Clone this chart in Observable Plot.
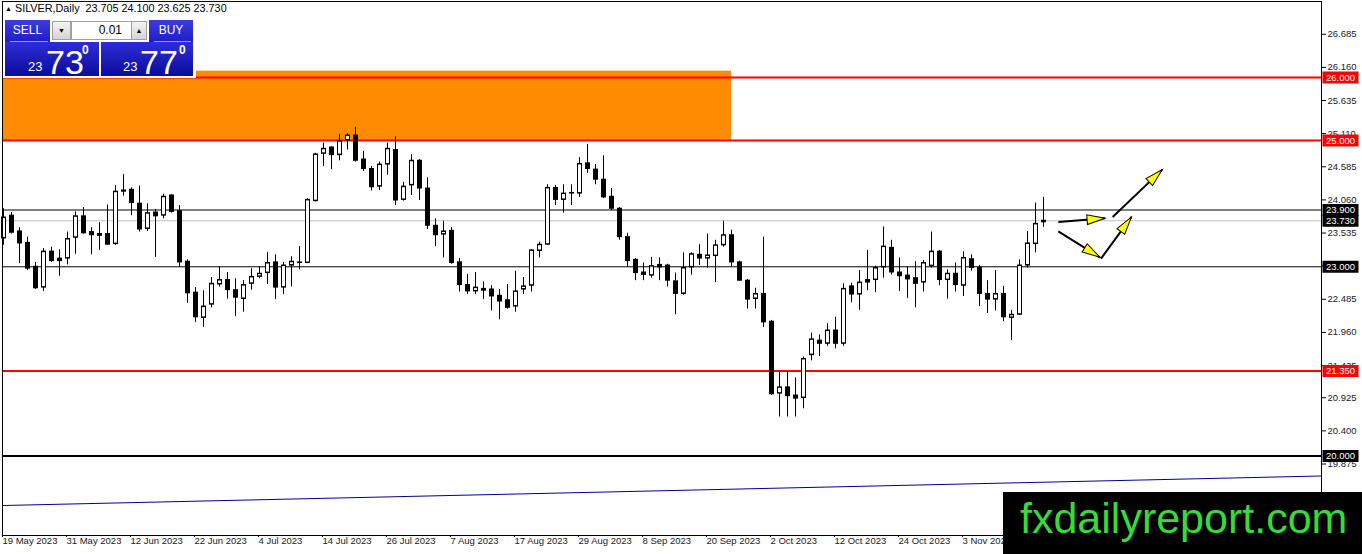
<!DOCTYPE html>
<html><head><meta charset="utf-8">
<script src="https://cdn.jsdelivr.net/npm/d3@7"></script>
<script src="https://cdn.jsdelivr.net/npm/@observablehq/plot@0.6"></script>
<style>
html,body{margin:0;padding:0;background:#fff;}
#wrap{position:relative;width:1362px;height:554px;overflow:hidden;font-family:"Liberation Sans",Arial,sans-serif;}
#chart svg{display:block;}
.ov{position:absolute;box-sizing:border-box;}
.hdr{left:5px;top:1px;font-size:10.8px;color:#000;white-space:pre;line-height:15px;}
.hdr .tri{font-size:7px;vertical-align:1px;}
.btn{color:#fff;font-size:12px;text-align:center;line-height:21px;background:linear-gradient(#3c3ce0,#1e1ec2);}
.btn:after{content:"";position:absolute;left:5px;right:2px;bottom:0;height:1px;background:#9a9af0;}
.spin{background:linear-gradient(#f4f4f4,#d4d4d4);border:1px solid #a0a0a0;font-size:7px;text-align:center;line-height:17px;color:#000;}
.inp{background:#fff;border:1px solid #a0a0a0;font-size:12px;text-align:right;padding-right:9px;line-height:17px;color:#000;}
.price{background:linear-gradient(#2e2ed8,#0b0b9c);}
.price span{position:absolute;color:#fff;line-height:1;}
.price .s{font-size:13px;top:18px;}
.price .b{font-size:34px;top:3px;}
.price .sup{font-size:12px;top:2px;font-weight:bold;}
.wm{left:1003px;top:492px;width:359px;height:62px;background:#000;color:#36dc36;font-size:43px;line-height:43px;padding:5px 0 0 17px;white-space:nowrap;}
</style></head><body>
<div id="wrap">
<div id="chart"></div>
<div class="ov hdr"><span class="tri">▲</span> SILVER,Daily  23.705 24.100 23.625 23.730</div>
<div class="ov" style="left:3px;top:18px;width:193px;height:60px;background:#fff"></div>
<div class="ov btn" style="left:5px;top:20px;width:45px;height:22px">SELL</div>
<div class="ov spin" style="left:52px;top:21px;width:19px;height:19px">▼</div>
<div class="ov inp" style="left:71px;top:21px;width:61px;height:19px">0.01</div>
<div class="ov spin" style="left:131px;top:21px;width:16px;height:19px">▲</div>
<div class="ov btn" style="left:149px;top:20px;width:44px;height:22px">BUY</div>
<div class="ov price" style="left:5px;top:42px;width:94px;height:34px"><span class="s" style="left:23px">23</span><span class="b" style="left:41px">73</span><span class="sup" style="left:77px">0</span></div>
<div class="ov price" style="left:101px;top:42px;width:92px;height:34px"><span class="s" style="left:22px">23</span><span class="b" style="left:39px">77</span><span class="sup" style="left:78px">0</span></div>
<div class="ov wm">fxdailyreport.com</div>
</div>
<script>
// ---- Data (SILVER daily, bar index 0 = 19 May 2023) ----
const opens = [23.45,23.81,23.56,23.38,23.00,22.67,23.24,23.09,23.13,23.46,
23.80,23.55,23.52,23.52,23.36,24.19,24.22,24.00,23.60,23.86,
23.81,24.13,23.88,23.08,22.59,22.19,22.40,22.72,22.79,22.63,
22.49,22.73,22.84,22.90,23.07,22.67,23.02,23.06,23.06,24.04,
24.79,24.89,24.77,25.00,25.08,24.70,24.55,24.27,24.62,24.85,
24.06,24.29,24.68,24.24,23.65,23.51,23.57,23.07,22.71,22.61,
22.65,22.64,22.54,22.47,22.37,22.64,22.70,23.25,23.35,24.25,
24.06,24.16,24.16,24.64,24.54,24.38,24.11,23.92,23.47,23.11,
22.91,22.86,23.03,23.02,22.77,22.57,22.99,23.19,23.13,23.17,
23.34,23.50,23.07,22.78,22.49,22.57,22.13,20.99,21.09,20.96,
20.92,21.60,21.83,21.78,21.99,21.78,22.69,22.56,22.75,22.79,
22.99,23.30,22.91,22.86,22.82,22.75,23.01,23.24,22.79,22.89,
22.70,23.12,22.98,22.57,22.48,22.57,22.19,22.24,23.02,23.36,
23.705];
const highs = [23.92,23.86,23.62,23.47,23.07,23.29,23.31,23.27,23.55,23.87,
23.94,23.62,23.70,23.98,24.29,24.46,24.25,24.28,24.00,23.91,
24.15,24.14,23.97,23.11,22.67,22.62,22.83,23.00,22.91,22.81,
22.78,22.97,23.00,23.23,23.19,23.07,23.16,23.32,24.08,24.80,
24.96,24.90,25.10,25.11,25.21,24.83,24.59,24.66,24.96,25.06,
24.34,24.78,24.70,24.41,23.76,23.72,23.62,23.13,22.88,22.91,
22.76,22.70,22.64,22.72,22.93,22.83,23.27,23.39,24.30,24.29,
24.30,24.30,24.73,24.94,24.62,24.76,24.24,23.94,23.53,23.13,
23.06,23.15,23.14,23.04,22.90,23.22,23.22,23.35,23.52,23.42,
23.72,23.58,23.09,22.80,22.66,23.47,22.15,21.33,21.33,21.24,
21.57,21.95,21.92,22.10,22.20,22.73,22.74,22.94,23.26,23.01,
23.63,23.42,23.14,23.00,23.08,23.10,23.55,23.26,22.95,23.06,
23.24,23.19,23.02,22.78,22.94,22.69,22.31,23.11,23.56,24.01,
24.100];
const lows = [23.34,23.52,23.05,22.94,22.64,22.61,23.07,22.85,23.03,23.20,
23.52,23.19,23.26,23.34,23.34,24.12,23.81,23.55,23.56,23.15,
23.76,23.85,22.99,22.42,22.12,22.04,22.35,22.68,22.49,22.21,
22.28,22.63,22.81,22.72,22.48,22.56,22.68,22.95,23.05,24.03,
24.59,24.54,24.68,24.85,24.66,24.51,24.20,24.21,24.45,23.97,
24.04,24.13,24.05,23.59,23.32,23.14,23.04,22.60,22.56,22.56,
22.48,22.30,22.16,22.33,22.28,22.56,22.60,23.14,23.34,23.97,
23.85,23.97,24.10,24.48,24.30,24.08,23.89,23.42,22.99,22.78,
22.78,22.82,22.78,22.68,22.24,22.55,22.87,23.02,22.98,22.75,
23.31,23.00,22.77,22.33,22.33,22.04,20.96,20.62,20.62,20.62,
20.75,21.51,21.58,21.74,21.70,21.74,22.43,22.31,22.62,22.59,
22.82,22.87,22.61,22.50,22.35,22.60,22.98,22.70,22.49,22.60,
22.53,22.93,22.37,22.26,22.30,22.13,21.83,22.23,22.98,23.22,
23.625];
const closes = [23.78,23.54,23.37,22.97,22.66,23.24,23.09,23.13,23.44,23.80,
23.53,23.50,23.49,23.35,24.19,24.21,24.01,23.59,23.85,23.80,
24.11,23.87,23.07,22.58,22.20,22.37,22.73,22.79,22.63,22.51,
22.71,22.84,22.89,23.06,22.67,23.02,23.08,23.07,24.06,24.78,
24.87,24.77,24.99,25.08,24.68,24.55,24.26,24.62,24.87,24.05,
24.27,24.68,24.24,23.65,23.50,23.56,23.06,22.71,22.61,22.67,
22.62,22.53,22.45,22.35,22.61,22.69,23.26,23.35,24.25,24.06,
24.16,24.17,24.63,24.55,24.38,24.10,23.92,23.47,23.09,22.90,
22.87,23.01,22.99,22.78,22.57,22.98,23.20,23.13,23.18,23.34,
23.50,23.07,22.78,22.48,22.57,22.12,20.98,21.09,20.95,20.91,
21.54,21.85,21.78,21.99,21.78,22.65,22.56,22.75,22.79,22.98,
23.32,22.91,22.85,22.80,22.73,23.06,23.24,22.79,22.89,22.71,
23.14,22.98,22.57,22.48,22.57,22.20,22.24,23.02,23.37,23.68,
23.730];

const dateTickIndex = [0,8,16,24,32,40,48,56,64,72,80,88,96,104,112,120];
const dateLabels = ["19 May 2023","31 May 2023","12 Jun 2023","22 Jun 2023","4 Jul 2023","14 Jul 2023","26 Jul 2023","7 Aug 2023","17 Aug 2023","29 Aug 2023","8 Sep 2023","20 Sep 2023","2 Oct 2023","12 Oct 2023","24 Oct 2023","3 Nov 2023"];
const priceTicks = [26.685,26.160,25.635,25.110,24.585,24.060,23.535,23.010,22.485,21.960,21.435,20.925,20.400,19.875];

const redLevels = [26.0, 25.0, 21.35];
const blackLevels = [23.9, 23.0];
const bidLevel = [23.73];
const roundLevel = [20.0];
const blackLabelLevels = [23.9, 23.73, 23.0, 20.0];

const zone = [{from: -10, to: 91, low: 25.0, high: 26.10}];
const trend = [{i: -0.125, price: 19.217}, {i: 164.75, price: 19.685}];
const arrows = [
  {i1: 131.85, p1: 23.71, i2: 137.69, p2: 23.77},
  {i1: 131.85, p1: 23.56, i2: 137.06, p2: 23.15},
  {i1: 137.19, p1: 23.13, i2: 141.00, p2: 23.79},
  {i1: 138.65, p1: 23.79, i2: 144.85, p2: 24.54}
];

// ---- Build ----
const W = 1362, H = 554;
const mL = 2, mR = 41, mT = 1, mB = 19;
const xDomain = [-0.125, 164.75];
const yDomain = [18.742, 27.204];

const candles = opens.map((o, i) => ({i, open: o, high: highs[i], low: lows[i], close: closes[i]}));
const bulls = candles.filter(d => d.close > d.open);
const dateMap = new Map(dateTickIndex.map((d, k) => [d, dateLabels[k]]));

const xs = Plot.scale({x: {domain: xDomain, range: [mL, W - mR]}});
const ys = Plot.scale({y: {domain: yDomain, range: [H - mB, mT]}});
const pxPerPrice = (H - mB - mT) / (yDomain[1] - yDomain[0]);
const bullsInner = bulls.filter(d => (d.close - d.open) * pxPerPrice > 2.6);

const angle = d => {
  const dx = xs.apply(d.i2) - xs.apply(d.i1);
  const dy = ys.apply(d.p2) - ys.apply(d.p1);
  return Math.atan2(dx, -dy) * 180 / Math.PI;
};
const headSymbol = {draw(ctx) { ctx.moveTo(0, 0); ctx.lineTo(4.8, 18); ctx.lineTo(-4.8, 18); ctx.closePath(); }};
const boxSymbol = {draw(ctx) { ctx.rect(-18, -6, 36, 12); }};

const chart = Plot.plot({
  width: W, height: H,
  marginLeft: mL, marginRight: mR, marginTop: mT, marginBottom: mB,
  x: {domain: xDomain, axis: null},
  y: {domain: yDomain, axis: null},
  style: {fontFamily: "'Liberation Sans', Arial, sans-serif", fontSize: "9.5px", color: "#000", background: "transparent", overflow: "visible"},
  marks: [
    Plot.rect(zone, {x1: "from", x2: "to", y1: "low", y2: "high", fill: "#ff8c00", clip: "frame"}),
    Plot.ruleY(bidLevel, {stroke: "#c0c0c0"}),
    Plot.ruleY(blackLevels, {stroke: "#000"}),
    Plot.line(trend, {x: "i", y: "price", stroke: "#00009c", strokeWidth: 1, clip: "frame"}),
    Plot.ruleY(redLevels, {stroke: "#ff0000", strokeWidth: 2}),
    Plot.ruleY(roundLevel, {stroke: "#000", strokeWidth: 2}),
    Plot.ruleX(candles, {x: "i", y1: "low", y2: "high", stroke: "#000"}),
    Plot.ruleX(candles, {x: "i", y1: d => Math.max(d.open, d.close), y2: d => Math.min(d.open, d.close), stroke: "#000", strokeWidth: 5, insetTop: -0.5, insetBottom: -0.5}),
    Plot.ruleX(bullsInner, {x: "i", y1: "close", y2: "open", stroke: "#fff", strokeWidth: 3, insetTop: 1, insetBottom: 1}),
    Plot.link(arrows, {x1: "i1", y1: "p1", x2: "i2", y2: "p2", stroke: "#000", strokeWidth: 2}),
    Plot.dot(arrows, {x: "i2", y: "p2", symbol: headSymbol, rotate: angle, fill: "#ffff00", stroke: "#000", strokeWidth: 1, r: 5}),
    Plot.frame({stroke: "#000"}),
    Plot.axisY(priceTicks, {anchor: "right", tickSize: 4, tickPadding: 2, tickFormat: d => d.toFixed(3), fill: "#1a1a1a", stroke: "#000", fontSize: 9.5}),
    Plot.axisX(dateTickIndex, {anchor: "bottom", tickSize: 2, tickPadding: 0, tickFormat: d => dateMap.get(d), textAnchor: "start", dx: -1, fill: "#1a1a1a", fontSize: 9.5}),
    Plot.dot(redLevels, {y: d => d, frameAnchor: "right", dx: 19, symbol: boxSymbol, fill: "#ff0000", stroke: null, r: 5}),
    Plot.dot(blackLabelLevels, {y: d => d, frameAnchor: "right", dx: 19, symbol: boxSymbol, fill: "#000", stroke: null, r: 5}),
    Plot.text(redLevels.concat(blackLabelLevels), {y: d => d, text: d => d.toFixed(3), frameAnchor: "right", dx: 19, textAnchor: "middle", fill: "#fff", fontSize: 9.5})
  ]
});
document.getElementById("chart").appendChild(chart);
</script>
</body></html>
